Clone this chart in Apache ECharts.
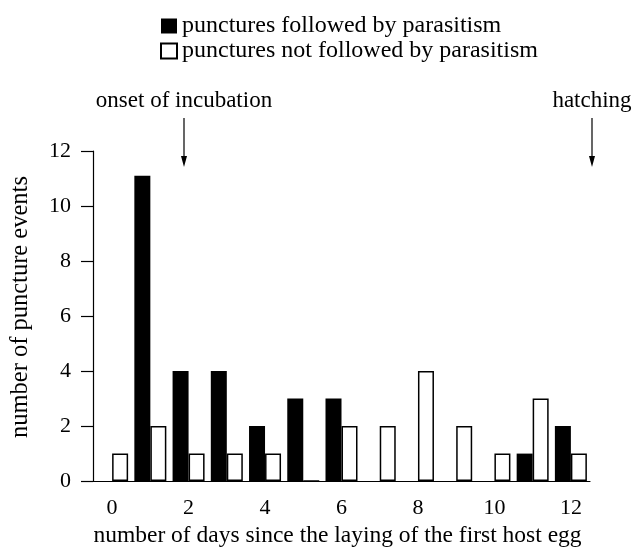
<!DOCTYPE html>
<html>
<head>
<meta charset="utf-8">
<script src="https://cdn.jsdelivr.net/npm/echarts@6/dist/echarts.min.js"></script>
<style>
  html, body { margin: 0; padding: 0; background: #fff; }
  #chart { width: 641px; height: 553px; }
</style>
</head>
<body>
<div id="chart"></div>
<script>
// days since the first host egg was laid
const days = ['0', '1', '2', '3', '4', '5', '6', '7', '8', '9', '10', '11', '12']
// punctures followed by parasitism
const parasitised = [0, 11.1, 4, 4, 2, 3, 3, 0, 0, 0, 0, 1, 2]
// punctures not followed by parasitism
const notParasitised = [1, 2, 1, 1, 1, 0, 2, 2, 4, 2, 1, 3, 1]
const yTicks = [0, 2, 4, 6, 8, 10, 12]

const FONT = '"Liberation Serif", "Times New Roman", serif'

const chart = echarts.init(document.getElementById('chart'))

// little downward arrow with a caption above it
const arrow = (x, label) => [
  {
    type: 'text',
    x: x, y: 101,
    style: { text: label, font: '23px ' + FONT, fill: '#000', textAlign: 'center', textVerticalAlign: 'middle' }
  },
  {
    type: 'line',
    shape: { x1: x, y1: 118, x2: x, y2: 158 },
    style: { stroke: '#000', lineWidth: 1.2 }
  },
  {
    type: 'polygon',
    shape: { points: [[x - 3, 156], [x + 3, 156], [x, 167]] },
    style: { fill: '#000' }
  }
]

const option = {
  animation: false,
  backgroundColor: '#fff',
  textStyle: { fontFamily: FONT, color: '#000' },
  legend: {
    orient: 'vertical',
    left: 160,
    top: 14,
    padding: 0,
    itemWidth: 16,
    itemHeight: 15,
    itemGap: 1,
    icon: 'rect',
    textStyle: { fontFamily: FONT, fontSize: 24, color: '#000', lineHeight: 22 },
    data: ['punctures followed by parasitism', 'punctures not followed by parasitism']
  },
  grid: { left: 91, right: 51, top: 151, bottom: 68.5 },
  xAxis: {
    type: 'category',
    data: days,
    name: 'number of days since the laying of the first host egg',
    nameLocation: 'middle',
    nameGap: 42,
    nameTextStyle: { fontFamily: FONT, fontSize: 23.5, color: '#000', padding: [0, 8, 0, 0] },
    axisLine: { lineStyle: { color: '#000', width: 1.2 } },
    axisTick: { alignWithLabel: true, interval: 0, length: 12, lineStyle: { color: '#000', width: 1.2 } },
    axisLabel: {
      interval: (i) => i % 2 === 0,
      margin: 16,
      fontFamily: FONT, fontSize: 22, color: '#000'
    },
    splitLine: { show: false }
  },
  yAxis: {
    type: 'value',
    min: yTicks[0],
    max: yTicks[yTicks.length - 1],
    interval: 2,
    name: 'number of puncture events',
    nameLocation: 'middle',
    nameGap: 60,
    nameTextStyle: { fontFamily: FONT, fontSize: 24.5, color: '#000', padding: [0, 0, 0, 18] },
    axisLine: { show: true, lineStyle: { color: '#000', width: 1.2 } },
    axisTick: { show: true, length: 12, lineStyle: { color: '#000', width: 1.2 } },
    axisLabel: { margin: 22, fontFamily: FONT, fontSize: 22, color: '#000' },
    splitLine: { show: false }
  },
  series: [
    {
      name: 'punctures followed by parasitism',
      type: 'bar',
      data: parasitised,
      barWidth: 16,
      barGap: 0,
      itemStyle: { color: '#000' }
    },
    {
      name: 'punctures not followed by parasitism',
      type: 'bar',
      data: notParasitised,
      barWidth: 16,
      barGap: 0,
      itemStyle: { color: '#fff', borderColor: '#000', borderWidth: 1.5 }
    }
  ],
  graphic: [
    ...arrow(184, 'onset of incubation'),
    ...arrow(592, 'hatching')
  ]
}

chart.setOption(option)

window.addEventListener('resize', () => {
  chart.resize()
})
</script>
</body>
</html>
